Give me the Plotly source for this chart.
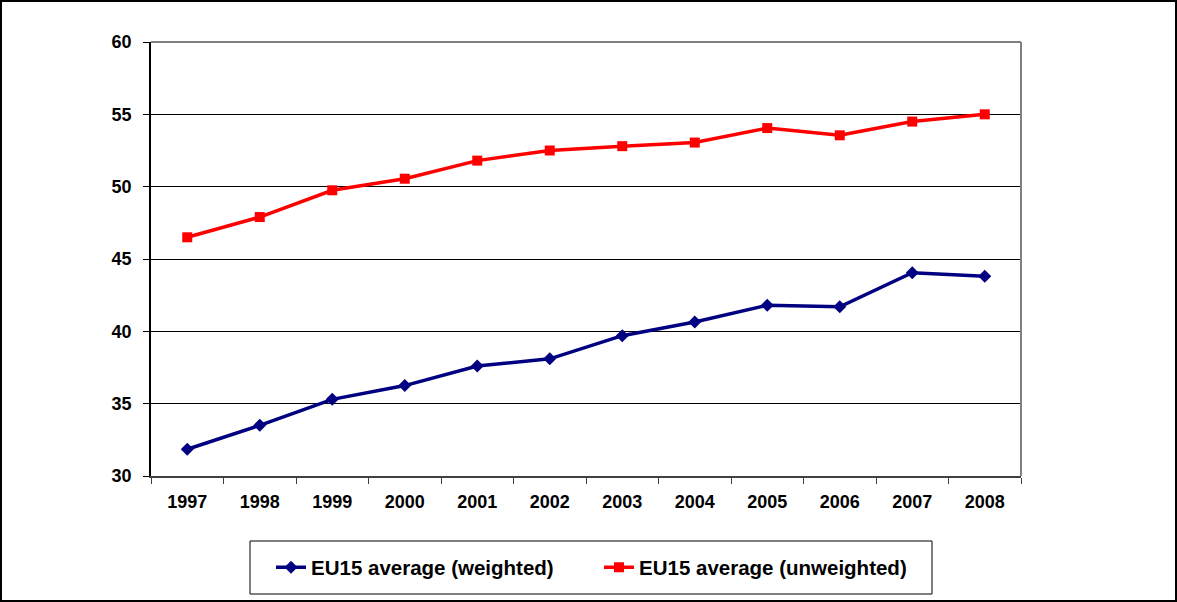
import plotly.graph_objects as go

years = ["1997", "1998", "1999", "2000", "2001", "2002", "2003", "2004", "2005", "2006", "2007", "2008"]
weighted = [31.85, 33.5, 35.3, 36.25, 37.6, 38.1, 39.7, 40.65, 41.8, 41.7, 44.05, 43.8]
unweighted = [46.5, 47.9, 49.75, 50.55, 51.8, 52.5, 52.8, 53.05, 54.05, 53.55, 54.5, 55.0]
y_ticks = [30, 35, 40, 45, 50, 55, 60]
name_w = "EU15 average (weighted)"
name_u = "EU15 average (unweighted)"

FONT = "Arial, Liberation Sans, sans-serif"

fig = go.Figure()
fig.add_trace(go.Scatter(
    x=years, y=weighted, name=name_w, mode="lines+markers",
    line=dict(color="#000080", width=3.5),
    marker=dict(symbol="diamond", size=10, color="#000080"),
))
fig.add_trace(go.Scatter(
    x=years, y=unweighted, name=name_u, mode="lines+markers",
    line=dict(color="#FF0000", width=3.5),
    marker=dict(symbol="square", size=10, color="#FF0000"),
))

L, R, T, B = 151, 156, 42, 126
W, H = 1177, 602
pw, ph = W - L - R, H - T - B

def px(x):
    return (x - L) / pw

def py(y):
    return (H - B - y) / ph

fig.update_layout(
    width=W, height=H,
    margin=dict(l=L, r=R, t=T, b=B),
    paper_bgcolor="white", plot_bgcolor="white",
    font=dict(family=FONT, size=18, color="black", weight="bold"),
    showlegend=True,
    legend=dict(
        orientation="h", x=px(271), xanchor="left", y=py(567.5), yanchor="middle",
        borderwidth=0, bgcolor="rgba(0,0,0,0)",
        font=dict(family=FONT, size=20.5, color="black", weight="bold"),
        entrywidth=283, entrywidthmode="pixels",
    ),
    xaxis=dict(
        type="category", tickson="boundaries", ticks="outside", ticklen=6,
        tickcolor="#404040", tickwidth=1,
        showgrid=False, showline=True, linecolor="#404040", linewidth=1.5,
        tickfont=dict(family=FONT, size=18, color="black", weight="bold"),
        ticklabelstandoff=9,
        range=[-0.5, 11.5],
    ),
    yaxis=dict(
        range=[30, 60], tickvals=y_ticks, ticks="outside", ticklen=6,
        tickcolor="black", showgrid=True, gridcolor="black", gridwidth=1,
        showline=True, linecolor="black", linewidth=1.5, zeroline=False,
        tickfont=dict(family=FONT, size=18, color="black", weight="bold"),
        ticklabelstandoff=8,
    ),
    shapes=[
        dict(type="line", xref="paper", yref="paper", x0=0, x1=1, y0=1, y1=1,
             line=dict(color="#808080", width=2), layer="above"),
        dict(type="line", xref="paper", yref="paper", x0=1, x1=1, y0=0, y1=1,
             line=dict(color="#808080", width=2), layer="above"),
        dict(type="rect", xref="paper", yref="paper",
             x0=px(250), x1=px(932), y0=py(541), y1=py(594),
             line=dict(color="black", width=1), layer="below"),
        dict(type="rect", xref="paper", yref="paper",
             x0=px(1), x1=px(1176), y0=py(1), y1=py(601),
             line=dict(color="black", width=2), layer="above"),
    ],
)

fig.write_html(
    "out.html",
    config={"displayModeBar": False},
    post_script="document.body.style.margin='0';document.body.style.overflow='hidden';",
)
